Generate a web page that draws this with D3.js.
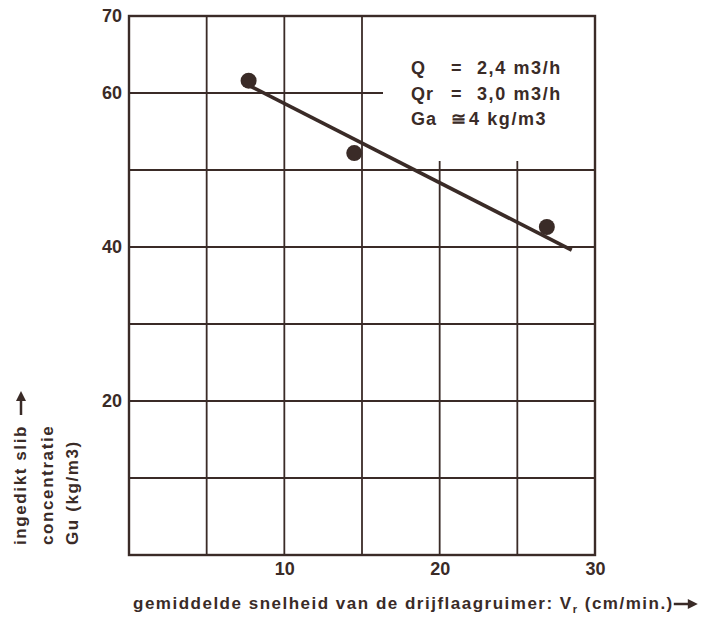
<!DOCTYPE html>
<html>
<head>
<meta charset="utf-8">
<script src="https://cdn.jsdelivr.net/npm/d3@7"></script>
<style>
  body { margin: 0; background: #fff; }
  text { font-family: "Liberation Sans", Arial, sans-serif; font-weight: bold; fill: #3a2b27; }
</style>
</head>
<body>
<div id="chart"></div>
<script>
// data
var snelheid = [7.7, 14.5, 26.9];          // V_r (cm/min.)
var concentratie = [61.6, 52.2, 42.6];     // Gu (kg/m3)
var lijnX = [7.7, 28.5];
var lijnY = [61.0, 39.6];
var xTicks = [10, 20, 30];
var yTicks = [20, 40, 60, 70];
var xGrid = [5, 10, 15, 20, 25];
var yGrid = [10, 20, 30, 40, 50, 60];
var legenda = [["Q", "=", "2,4 m3/h"], ["Qr", "=", "3,0 m3/h"], ["Ga", "\u2245", "4 kg/m3"]];

var ink = "#3a2b27";
var W = 721, H = 619;

var x = d3.scaleLinear().domain([0, 30]).range([129, 595]);
var y = d3.scaleLinear().domain([0, 70]).range([555, 16]);

var svg = d3.select("#chart")
            .append("svg")
            .attr("width", W)
            .attr("height", H);

// grid
svg.selectAll(".hgrid").data(yGrid).enter()
   .append("line")
   .attr("x1", x(0)).attr("x2", x(30))
   .attr("y1", function(d) { return y(d); })
   .attr("y2", function(d) { return y(d); })
   .attr("stroke", ink).attr("stroke-width", 1.8);

svg.selectAll(".vgrid").data(xGrid).enter()
   .append("line")
   .attr("y1", y(0)).attr("y2", y(70))
   .attr("x1", function(d) { return x(d); })
   .attr("x2", function(d) { return x(d); })
   .attr("stroke", ink).attr("stroke-width", 1.8);

// blank area behind the legend text
svg.append("rect")
   .attr("x", 383).attr("y", y(70) + 1)
   .attr("width", x(30) - 383 - 1).attr("height", 160 - y(70))
   .attr("fill", "#fff");

// frame
svg.append("rect")
   .attr("x", x(0)).attr("y", y(70))
   .attr("width", x(30) - x(0)).attr("height", y(0) - y(70))
   .attr("fill", "none").attr("stroke", ink).attr("stroke-width", 2.4);

// axes (labels only)
var xAxis = svg.append("g")
   .attr("transform", "translate(0," + y(0) + ")")
   .call(d3.axisBottom(x).tickValues(xTicks).tickSize(0).tickPadding(7));
xAxis.select(".domain").remove();
xAxis.selectAll("text").attr("font-size", 18).attr("fill", ink)
     .style("font-family", "Liberation Sans, Arial, sans-serif");

var yAxis = svg.append("g")
   .attr("transform", "translate(" + x(0) + ",0)")
   .call(d3.axisLeft(y).tickValues(yTicks).tickSize(0).tickPadding(7));
yAxis.select(".domain").remove();
yAxis.selectAll("text").attr("font-size", 18).attr("fill", ink)
     .style("font-family", "Liberation Sans, Arial, sans-serif");

// fitted line
var lijn = d3.line()
             .x(function(d) { return x(d[0]); })
             .y(function(d) { return y(d[1]); });
svg.append("path")
   .attr("d", lijn(d3.zip(lijnX, lijnY)))
   .attr("stroke", ink).attr("stroke-width", 3.6)
   .attr("fill", "none");

// measured points
svg.selectAll(".punt").data(d3.zip(snelheid, concentratie)).enter()
   .append("circle")
   .attr("cx", function(d) { return x(d[0]); })
   .attr("cy", function(d) { return y(d[1]); })
   .attr("r", 8)
   .attr("fill", ink);

// legend text
var leg = svg.append("g");
for (var i = 0; i < legenda.length; i++) {
  var by = 74 + i * 25.5;
  leg.append("text").attr("x", 411).attr("y", by).attr("font-size", 18).attr("letter-spacing", 1).text(legenda[i][0]);
  leg.append("text").attr("x", 451).attr("y", by).attr("font-size", 18).text(legenda[i][1]);
  leg.append("text").attr("x", i == 2 ? 469 : 477).attr("y", by).attr("font-size", 18)
     .attr("letter-spacing", 1.6).text(legenda[i][2]);
}

// x title
var xt = svg.append("text")
   .attr("x", 133).attr("y", 609)
   .attr("font-size", 17)
   .attr("letter-spacing", 1.5);
xt.append("tspan").text("gemiddelde snelheid van de drijflaagruimer: V");
xt.append("tspan").attr("font-size", 11).attr("dy", 4).text("r");
xt.append("tspan").attr("dy", -4).text("  (cm/min.)");
var xEnd = 133 + xt.node().getComputedTextLength();
svg.append("line")
   .attr("x1", xEnd).attr("x2", xEnd + 16).attr("y1", 604).attr("y2", 604)
   .attr("stroke", ink).attr("stroke-width", 2.5);
svg.append("path")
   .attr("d", "M" + (xEnd + 14) + ",599 L" + (xEnd + 24) + ",604 L" + (xEnd + 14) + ",609 Z")
   .attr("fill", ink);

// y title (rotated)
var yTitel = ["ingedikt slib", "concentratie", "Gu (kg/m3)"];
var yBase = [26, 53, 78];
var eind = 545;
for (var k = 0; k < yTitel.length; k++) {
  var t = svg.append("text")
     .attr("transform", "translate(" + yBase[k] + ",545) rotate(-90)")
     .attr("font-size", 17)
     .attr("letter-spacing", 1.6)
     .text(yTitel[k]);
  if (k == 0) eind = 545 - t.node().getComputedTextLength();
}
svg.append("line")
   .attr("x1", 21).attr("x2", 21).attr("y1", eind - 10).attr("y2", eind - 26)
   .attr("stroke", ink).attr("stroke-width", 2.5);
svg.append("path")
   .attr("d", "M16," + (eind - 24) + " L21," + (eind - 34) + " L26," + (eind - 24) + " Z")
   .attr("fill", ink);
</script>
</body>
</html>
